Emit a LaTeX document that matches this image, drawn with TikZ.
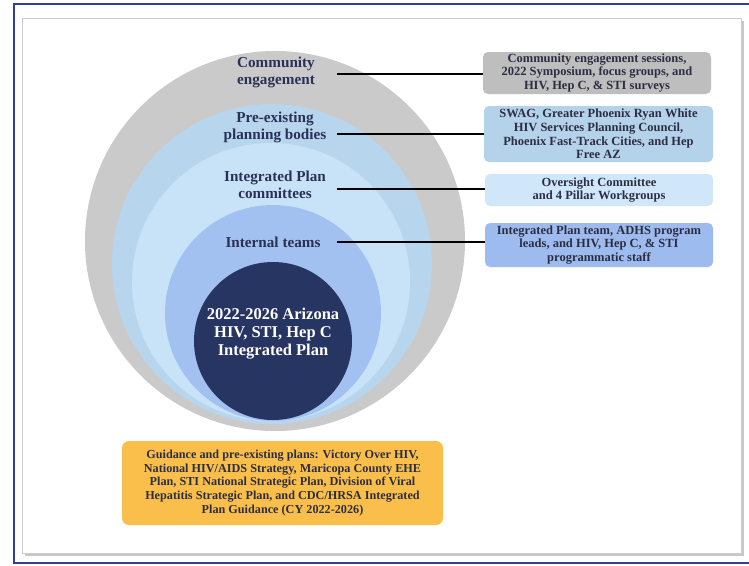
\documentclass[tikz,border=0pt]{standalone}
\usepackage{fontspec}
\setmainfont{Liberation Serif}
\definecolor{frameblue}{HTML}{2E3F9E}
\definecolor{ringgray}{HTML}{CACACA}
\definecolor{ringblueA}{HTML}{B7D5EC}
\definecolor{ringblueB}{HTML}{C8E3F8}
\definecolor{ringblueC}{HTML}{A3C1F0}
\definecolor{navy}{HTML}{263561}
\definecolor{txtnavy}{HTML}{2A3157}
\definecolor{boxgray}{HTML}{BEBEBE}
\definecolor{boxblueA}{HTML}{B4D2EA}
\definecolor{boxblueB}{HTML}{D0E7FA}
\definecolor{boxblueC}{HTML}{9DBBEE}
\definecolor{boxorange}{HTML}{FABE4B}
\definecolor{boxtxt}{HTML}{2B2E42}
\begin{document}
\begin{tikzpicture}[x=1pt,y=-1pt,
  ring/.style={circle,inner sep=0pt,draw=none},
  ringlabel/.style={align=center,text=txtnavy,font=\fontsize{15.2}{17}\selectfont\bfseries},
  infobox/.style={rounded corners=5pt,inner sep=0pt,draw=none,align=center,text=boxtxt,font=\fontsize{12.5}{13.7}\selectfont\bfseries},
  link/.style={line width=2pt,black}
]
\useasboundingbox (0,0) rectangle (749,565);
% outer frame
\draw[frameblue,line width=2pt] (760,4) -- (14,4) -- (14,563) -- (760,563);
% panel with shadow
\fill[black!22] (25,21) rectangle (744,556);
\fill[white,draw=black!20] (22,18) rectangle (741,553);
% rings
\node[ring,fill=ringgray,minimum size=380pt] (r1) at (275,241) {};
\node[ring,fill=ringblueA,minimum size=320pt] (r2) at (272,264) {};
\node[ring,fill=ringblueB,minimum size=278pt] (r3) at (271,282) {};
\node[ring,fill=ringblueC,minimum size=216pt] (r4) at (273,313) {};
\node[ring,fill=navy,minimum size=158pt] (r5) at (273,341) {};
% ring labels
\node[ringlabel] (l1) at (276,72) {Community\\engagement};
\node[ringlabel] (l2) at (275,127) {Pre-existing\\planning bodies};
\node[ringlabel] (l3) at (275,185) {Integrated Plan\\committees};
\node[ringlabel] (l4) at (273,242) {Internal teams};
\node[ringlabel,text=white,font=\fontsize{16.5}{18}\selectfont\bfseries] (l5) at (273,334) {2022-2026 Arizona\\HIV, STI, Hep C\\Integrated Plan};
% boxes
\node[infobox,fill=boxgray,minimum width=228pt,minimum height=42pt] (b1) at (597,73) {Community engagement sessions,\\2022 Symposium, focus groups, and\\HIV, Hep C, \& STI surveys};
\node[infobox,fill=boxblueA,minimum width=229pt,minimum height=56pt] (b2) at (598.5,134) {SWAG, Greater Phoenix Ryan White\\HIV Services Planning Council,\\Phoenix Fast-Track Cities, and Hep\\Free AZ};
\node[infobox,fill=boxblueB,minimum width=228pt,minimum height=32pt] (b3) at (599,190) {Oversight Committee\\and 4 Pillar Workgroups};
\node[infobox,fill=boxblueC,minimum width=228pt,minimum height=44pt] (b4) at (599,245) {Integrated Plan team, ADHS program\\leads, and HIV, Hep C, \& STI\\programmatic staff};
\node[infobox,fill=boxorange,rounded corners=7pt,font=\fontsize{12.2}{13.7}\selectfont\bfseries,minimum width=321pt,minimum height=84pt] (b5) at (282.5,483) {Guidance and pre-existing plans: Victory Over HIV,\\National HIV/AIDS Strategy, Maricopa County EHE\\Plan, STI National Strategic Plan, Division of Viral\\Hepatitis Strategic Plan, and CDC/HRSA Integrated\\Plan Guidance (CY 2022-2026)};
% connectors
\coordinate (c1) at (337,74);
\coordinate (c2) at (337,134);
\coordinate (c3) at (337,189);
\coordinate (c4) at (337,242);
\draw[link] (c1) -- (c1 -| b1.west);
\draw[link] (c2) -- (c2 -| b2.west);
\draw[link] (c3) -- (c3 -| b3.west);
\draw[link] (c4) -- (c4 -| b4.west);
\end{tikzpicture}
\end{document}
